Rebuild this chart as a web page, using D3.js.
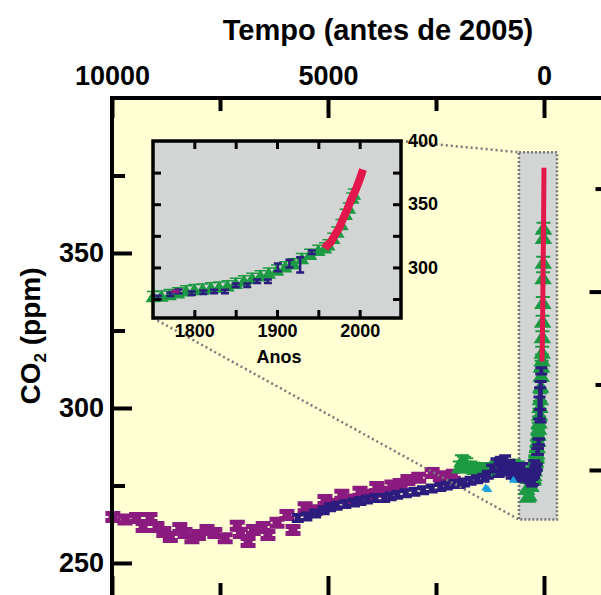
<!DOCTYPE html>
<html>
<head>
<meta charset="utf-8">
<script src="https://cdn.jsdelivr.net/npm/d3@7"></script>
<style>
  body { margin: 0; background: #fff; }
  text { font-family: "Liberation Sans", Arial, Helvetica, sans-serif; font-weight: bold; }
</style>
</head>
<body>
<div id="app"></div>
<script>
// ---- data: main panel, years before 2005 / CO2 ppm ----
var purpleBP = [[9980,264.8],[9700,264],[9430,264.5],[9280,261.6],[9120,264.5],[8960,261.6],[8800,260],
  [8650,258.4],[8430,261.3],[8310,259.7],[8150,258],[8000,259],[7800,260.6],[7620,259.7],[7380,258],
  [7100,262],[7030,259.7],[6850,256.8],[6730,260.6],[6500,261.6],[6390,259],[6180,263],[5950,265.5],
  [5810,260.6],[5530,268],[5300,267],[5070,270.3],[4880,269],[4680,272],[4470,270.5],[4260,273],
  [4050,272],[3870,274.5],[3700,273],[3520,275],[3330,275.5],[3150,276.8],[2900,277.5],[2590,279],
  [2400,278],[2290,277.7],[2100,278.5]];
var greenBP = [[1950,281],[1900,283],[1850,282.5],[1800,282],[1700,281],[1600,280.5],[1500,280.5],
  [1400,280],[1300,279.5],[1200,280.5],[1100,281],[1000,280.5],[900,281],[800,281],[700,281.5],
  [600,281],[500,280.5],[450,279],[400,274],[380,271.5],[350,272],[300,275]];
var blueBP = [[5700,264.5],[5500,265],[5300,266],[5100,267],[4950,268],[4800,268.5],[4600,269],
  [4400,269.5],[4250,270],[4100,270.5],[3900,271],[3700,271],[3550,271.5],[3400,272],[3200,272.5],
  [3000,273],[2800,273.5],[2600,274],[2400,274.5],[2250,275],[2100,275.5],[1950,275.5],[1850,276],
  [1700,276.5],[1550,277],[1400,277.5],[1300,278.5],[1200,280.5],[1100,282.5],[1050,279],[1000,283],
  [950,280],[900,283.5],[850,279.5],[800,282],[750,278.5],[700,281],[650,278],[600,280.5],[550,277.5],
  [500,281],[460,278],[420,279],[330,277],[280,276]];
var cyanBP = [[1350,274.5],[1300,274],[710,277]];

// ---- data: inset, years AD / CO2 ppm ----
var lawDome = [[1750,277],[1760,277.5],[1770,278.5],[1780,280],[1790,281.5],[1800,282.5],[1810,283],
  [1820,284],[1830,284.5],[1840,285.5],[1850,287.5],[1860,289.5],[1870,291.5],[1880,293.5],[1890,295.5],
  [1900,298],[1910,300.5],[1920,303],[1930,307],[1940,310.5],[1950,313.5],[1958,315.5],[1962,318],
  [1968,323],[1973,328],[1978,334],[1983,342],[1987,347],[1991,355],[1993,358]];
var iceCores = [[1756,276.3,1],[1771,278.7,1],[1781,281,2.5],[1797,279.5,1],[1811,280.3,1],[1824,281,1],
  [1837,281,1],[1850,286,1],[1864,286,1],[1876,289,1],[1889,289,1],[1901,300,4],[1915,303,4],
  [1928,302,7],[1942,312,1.5]];
var domeC = [[1777,281,1.5]];
var maunaLoa = [[1958,315],[1960,317],[1965,320],[1970,325.7],[1975,331],[1980,338.7],[1985,346],
  [1990,354],[1995,361],[2000,369.5],[2004,377.5]];

// ---- ticks ----
var topTicks = [10000, 5000, 0], topMinor = [7500, 2500];
var leftTicks = [250, 300, 350], leftMinor = [275, 325, 375];
var forcingMajor = [0, 1], forcingMinor = [0.5, 1.5];   // W/m2, right edge
var insetXLabels = [1800, 1900, 2000], insetXTicks = [1800, 1850, 1900, 1950, 2000];
var insetYLabels = [300, 350, 400], insetYTicks = [275, 300, 325, 350, 375];
var zoomBox = [580, -300, 264, 382.5]; // grey band in main panel: years BP, ppm

var col = {bg:'#FFFFD3', grey:'#D3D5D5', purple:'#8C1B7F', blue:'#2B1C7D', green:'#1D9A43',
  cyan:'#1AA3DD', red:'#E2184C'};

var svg = d3.select('#app').append('svg').attr('width', 601).attr('height', 595);

var x = d3.scaleLinear().domain([10000, -1400]).range([112, 604.5]);
var y = d3.scaleLinear().domain([238.7, 400]).range([598, 98]);
var ix = d3.scaleLinear().domain([1750, 2050]).range([153, 401]);
var iy = d3.scaleLinear().domain([260, 400]).range([318, 141]);
var bp = function(ad) { return 2005 - ad; };

function ibar(cx, cy, w, h, cap, stem) {
  var t = cy - h / 2, b = cy + h / 2, s = (w - stem) / 2;
  return 'M' + (cx - w / 2) + ',' + t + 'h' + w + 'v' + cap + 'h' + (-s) + 'V' + (b - cap) + 'h' + s +
    'v' + cap + 'h' + (-w) + 'v' + (-cap) + 'h' + s + 'V' + (t + cap) + 'h' + (-s) + 'Z';
}
function tri(cx, cy, w, h) {
  return 'M' + (cx - w / 2) + ',' + (cy + h / 2) + 'L' + cx + ',' + (cy - h / 2) + 'L' + (cx + w / 2) + ',' + (cy + h / 2) + 'Z' +
    'M' + (cx - w / 2) + ',' + (cy - h / 2) + 'h' + w;
}

// frame background
svg.append('rect').attr('x', x(10000)).attr('y', y(400))
  .attr('width', x(-1400) - x(10000)).attr('height', y(238.7) - y(400)).attr('fill', col.bg);

// grey zoom band
svg.append('rect').attr('x', x(zoomBox[0])).attr('y', y(zoomBox[3]))
  .attr('width', x(zoomBox[1]) - x(zoomBox[0])).attr('height', y(zoomBox[2]) - y(zoomBox[3]))
  .attr('fill', col.grey).attr('stroke', '#777').attr('stroke-width', 2.5).attr('stroke-dasharray', '2,2');

var main = svg.append('g');
main.selectAll('.pu').data(purpleBP).enter().append('path')
  .attr('d', function(d) { return ibar(x(d[0]), y(d[1]), 15, 12, 5, 9); }).attr('fill', col.purple);
main.selectAll('.gr').data(greenBP.concat(lawDome.map(function(d) { return [bp(d[0]), d[1]]; })))
  .enter().append('path')
  .attr('d', function(d) { return tri(x(d[0]), y(d[1]), 14, 11); })
  .attr('fill', col.green).attr('stroke', col.green).attr('stroke-width', 2);
main.selectAll('.bl').data(blueBP).enter().append('path')
  .attr('d', function(d) { return ibar(x(d[0]), y(d[1]), 12, 10, 3.5, 6); }).attr('fill', col.blue);
main.selectAll('.cy').data(cyanBP).enter().append('path')
  .attr('d', function(d) { return tri(x(d[0]), y(d[1]), 9, 7); }).attr('fill', col.cyan);
main.selectAll('.bl2').data(iceCores).enter().append('path')
  .attr('d', function(d) { return ibar(x(bp(d[0])), y(d[1]), 12, Math.max(9, d[2] * 6.2), 3, 4); })
  .attr('fill', col.blue);
main.append('path').datum(maunaLoa)
  .attr('d', d3.line().x(function(d) { return x(bp(d[0])); }).y(function(d) { return y(d[1]); }))
  .attr('fill', 'none').attr('stroke', col.red).attr('stroke-width', 5);

// dotted connector lines
svg.append('line').attr('x1', ix(2050)).attr('y1', iy(400)).attr('x2', x(zoomBox[0])).attr('y2', y(zoomBox[3]))
  .attr('stroke', '#777').attr('stroke-width', 2.5).attr('stroke-dasharray', '2,3');
svg.append('line').attr('x1', ix(1750)).attr('y1', iy(260)).attr('x2', x(zoomBox[0])).attr('y2', y(zoomBox[2]))
  .attr('stroke', '#777').attr('stroke-width', 2.5).attr('stroke-dasharray', '2,3');

// main axes
function styleAxis(g) {
  g.select('.domain').remove();
  g.selectAll('.tick line').attr('stroke', '#000').attr('stroke-width', 4);
  g.selectAll('.tick text').attr('fill', '#000').style('font-size', '27px');
}
svg.append('g').attr('transform', 'translate(0,' + y(400) + ')')
  .call(d3.axisTop(x).tickValues(topTicks).tickSize(-20).tickPadding(13).tickFormat(d3.format('d'))).call(styleAxis);
svg.append('g').attr('transform', 'translate(0,' + y(400) + ')')
  .call(d3.axisTop(x).tickValues(topMinor).tickSize(-13).tickFormat('')).call(styleAxis);
svg.append('g').attr('transform', 'translate(0,' + y(238.7) + ')')
  .call(d3.axisBottom(x).tickValues(topTicks).tickSize(-22).tickFormat('')).call(styleAxis);
svg.append('g').attr('transform', 'translate(0,' + y(238.7) + ')')
  .call(d3.axisBottom(x).tickValues(topMinor).tickSize(-15).tickFormat('')).call(styleAxis);
svg.append('g').attr('transform', 'translate(' + x(10000) + ',0)')
  .call(d3.axisLeft(y).tickValues(leftTicks).tickSize(-20).tickPadding(8)).call(styleAxis);
svg.append('g').attr('transform', 'translate(' + x(10000) + ',0)')
  .call(d3.axisLeft(y).tickValues(leftMinor).tickSize(-13).tickFormat('')).call(styleAxis);
// right edge: radiative forcing ticks (relative to 280 ppm)
var fy = function(f) { return y(280 * Math.exp(f / 5.35)); };
svg.append('g').attr('transform', 'translate(' + x(-1400) + ',0)')
  .call(d3.axisRight(d3.scaleLinear().domain([0, 1]).range([fy(0), fy(1)])).tickValues(forcingMajor).tickSize(-15).tickFormat(''))
  .call(styleAxis);
svg.selectAll('.fmin').data(forcingMinor).enter().append('line')
  .attr('x1', x(-1400)).attr('x2', x(-1400) - 9).attr('y1', fy).attr('y2', fy)
  .attr('stroke', '#000').attr('stroke-width', 4);

svg.append('rect').attr('x', x(10000)).attr('y', y(400))
  .attr('width', x(-1400) - x(10000)).attr('height', y(238.7) - y(400))
  .attr('fill', 'none').attr('stroke', '#000').attr('stroke-width', 4);

// titles
svg.append('text').attr('x', 378).attr('y', 40).attr('text-anchor', 'middle')
  .style('font-size', '29px').text('Tempo (antes de 2005)');
var yl = svg.append('text').attr('transform', 'translate(40,336) rotate(-90)').attr('text-anchor', 'middle')
  .style('font-size', '28px');
yl.append('tspan').text('CO');
yl.append('tspan').attr('dy', 6).style('font-size', '17px').text('2');
yl.append('tspan').attr('dy', -6).text(' (ppm)');

// ---- inset ----
var inset = svg.append('g');
inset.append('rect').attr('x', ix(1750)).attr('y', iy(400)).attr('width', ix(2050) - ix(1750))
  .attr('height', iy(260) - iy(400)).attr('fill', col.grey);
inset.selectAll('.ig').data(lawDome).enter().append('path')
  .attr('d', function(d) { return tri(ix(d[0]), iy(d[1]), 12, 10); })
  .attr('fill', col.green).attr('stroke', col.green).attr('stroke-width', 1.5);
inset.selectAll('.ib').data(iceCores).enter().append('path')
  .attr('d', function(d) { return ibar(ix(d[0]), iy(d[1]), 8, Math.max(6, iy(d[1] - d[2]) - iy(d[1] + d[2])), 2.5, 2.5); })
  .attr('fill', col.blue);
inset.selectAll('.ip').data(domeC).enter().append('path')
  .attr('d', function(d) { return ibar(ix(d[0]), iy(d[1]), 8, iy(d[1] - d[2]) - iy(d[1] + d[2]), 3, 4); })
  .attr('fill', col.purple);
inset.append('path').datum(maunaLoa)
  .attr('d', d3.line().x(function(d) { return ix(d[0]); }).y(function(d) { return iy(d[1]); }))
  .attr('fill', 'none').attr('stroke', col.red).attr('stroke-width', 8);

function styleInset(g) {
  g.select('.domain').remove();
  g.selectAll('.tick line').attr('stroke', '#000').attr('stroke-width', 3);
  g.selectAll('.tick text').attr('fill', '#000').style('font-size', '18px');
}
inset.append('g').attr('transform', 'translate(0,' + iy(400) + ')')
  .call(d3.axisTop(ix).tickValues(insetXTicks).tickSize(-8).tickFormat('')).call(styleInset);
inset.append('g').attr('transform', 'translate(0,' + iy(260) + ')')
  .call(d3.axisBottom(ix).tickValues(insetXTicks).tickSize(-8).tickFormat('')).call(styleInset);
inset.append('g').attr('transform', 'translate(0,' + iy(260) + ')')
  .call(d3.axisBottom(ix).tickValues(insetXLabels).tickSize(0).tickPadding(6).tickFormat(d3.format('d'))).call(styleInset);
inset.append('g').attr('transform', 'translate(' + ix(1750) + ',0)')
  .call(d3.axisLeft(iy).tickValues(insetYTicks).tickSize(-8).tickFormat('')).call(styleInset);
inset.append('g').attr('transform', 'translate(' + ix(2050) + ',0)')
  .call(d3.axisRight(iy).tickValues(insetYTicks).tickSize(-8).tickFormat('')).call(styleInset);
inset.append('g').attr('transform', 'translate(' + ix(2050) + ',0)')
  .call(d3.axisRight(iy).tickValues(insetYLabels).tickSize(0).tickPadding(7)).call(styleInset);
inset.append('rect').attr('x', ix(1750)).attr('y', iy(400)).attr('width', ix(2050) - ix(1750))
  .attr('height', iy(260) - iy(400)).attr('fill', 'none').attr('stroke', '#000').attr('stroke-width', 3.5);
inset.append('text').attr('x', 279).attr('y', 363).attr('text-anchor', 'middle')
  .style('font-size', '18px').text('Anos');
</script>
</body>
</html>
